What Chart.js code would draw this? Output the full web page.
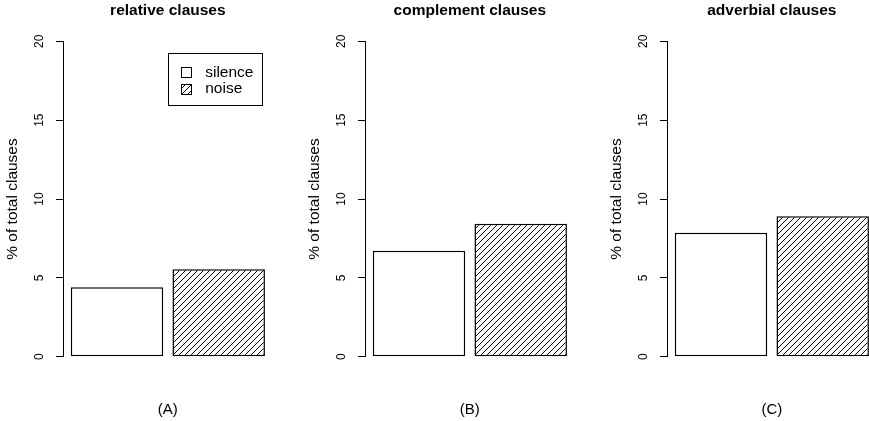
<!DOCTYPE html>
<html>
<head>
<meta charset="utf-8">
<script src="https://cdn.jsdelivr.net/npm/chart.js@4.4.1/dist/chart.umd.min.js"></script>
<style>
  html, body { margin: 0; padding: 0; background: #fff; }
  #wrap { position: relative; width: 869px; height: 421px; overflow: hidden; }
  .panel { position: absolute; top: 0; width: 302px; height: 421px; }
</style>
</head>
<body>
<div id="wrap">
  <div class="panel" style="left:0px"><canvas id="chart0" width="302" height="421"></canvas></div>
  <div class="panel" style="left:302px"><canvas id="chart1" width="302" height="421"></canvas></div>
  <div class="panel" style="left:604px"><canvas id="chart2" width="302" height="421"></canvas></div>
</div>
<script>
// data
const categories = ['silence', 'noise'];
const panelTitles = ['relative clauses', 'complement clauses', 'adverbial clauses'];
const panelTags = ['(A)', '(B)', '(C)'];
const silenceValues = [4.40, 6.72, 7.86];
const noiseValues = [5.54, 8.43, 8.90];
const yTicks = [0, 5, 10, 15, 20];
const yLabel = '% of total clauses';

Chart.defaults.font.family = '"Liberation Sans", Arial, Helvetica, sans-serif';
Chart.defaults.color = '#000';

// diagonal hatch like R's density fill
function makeHatch() {
    const c = document.createElement('canvas');
    c.width = 6; c.height = 6;
    const g = c.getContext('2d');
    g.fillStyle = '#fff';
    g.fillRect(0, 0, 6, 6);
    g.strokeStyle = '#000';
    g.lineWidth = 1;
    g.beginPath();
    g.moveTo(0, 6); g.lineTo(6, 0);
    g.moveTo(-1, 1); g.lineTo(1, -1);
    g.moveTo(5, 7); g.lineTo(7, 5);
    g.stroke();
    return g.createPattern(c, 'repeat');
}
const hatch = makeHatch();
const fills = ['#fff', hatch];

// bar midpoints the way barplot() places them (width 1, space 0.1)
const space = 0.1;
const mids = categories.map((c, i) => space + i * (1 + space) + 0.5);
const xLo = space, xHi = categories.length * (1 + space);
const pad = (xHi - xLo) * 0.04;

// boxed legend in the top right of the plot, only on the first panel
const boxLegend = {
    id: 'boxLegend',
    afterDraw(chart) {
        if (!chart.options.plugins.boxLegend.show) return;
        const ctx = chart.ctx;
        const ca = chart.chartArea;
        const ds = chart.data.datasets[0];
        const left = ca.right - 105, top = ca.top + 12;
        ctx.save();
        ctx.strokeStyle = '#000';
        ctx.lineWidth = 1;
        ctx.strokeRect(Math.round(left) + 0.5, Math.round(top) + 0.5, 94, 52);
        ctx.font = '15.5px "Liberation Sans", Arial, sans-serif';
        ctx.textBaseline = 'middle';
        chart.data.labels.forEach((lab, i) => {
            const cy = top + 19 + i * 16.8;
            const sx = Math.round(left + 13) + 0.5, sy = Math.round(cy - 5) + 0.5;
            ctx.fillStyle = ds.backgroundColor[i];
            ctx.fillRect(sx, sy, 10, 10);
            ctx.strokeRect(sx, sy, 10, 10);
            ctx.fillStyle = '#000';
            ctx.fillText(lab, left + 37.5, cy);
        });
        ctx.restore();
    }
};

panelTitles.forEach((title, p) => {
    const ctx = document.getElementById('chart' + p);
    new Chart(ctx, {
        type: 'bar',
        data: {
            labels: categories,
            datasets: [{
                label: title,
                data: [silenceValues[p], noiseValues[p]].map((v, i) => ({ x: mids[i], y: v })),
                backgroundColor: fills,
                borderColor: '#000',
                borderWidth: 1.5,
                borderSkipped: false,
                barPercentage: 1 / (1 + space),
                categoryPercentage: 1
            }]
        },
        options: {
            responsive: false,
            animation: false,
            events: [],
            layout: { padding: { left: 0, right: 29.3, top: 0, bottom: 0 } },
            plugins: {
                legend: { display: false },
                tooltip: { enabled: false },
                boxLegend: { show: p === 0 }
            },
            scales: {
                x: {
                    type: 'linear',
                    position: 'bottom',
                    min: xLo - pad,
                    max: xHi + pad,
                    bounds: 'data',
                    afterBuildTicks: s => { s.ticks = []; },
                    afterFit: s => { s.height = 64.3; },
                    ticks: { display: false },
                    grid: { display: false },
                    border: { display: false },
                    title: {
                        display: true,
                        text: panelTags[p],
                        font: { size: 15 },
                        padding: { top: 0, bottom: 2 }
                    }
                },
                top: {
                    type: 'linear',
                    position: 'top',
                    min: 0,
                    max: 1,
                    afterBuildTicks: s => { s.ticks = []; },
                    afterFit: s => { s.height = 41.3; },
                    ticks: { display: false },
                    grid: { display: false },
                    border: { display: false },
                    title: {
                        display: true,
                        text: title,
                        font: { size: 15.5, weight: 'bold' },
                        padding: { top: 1.5, bottom: 0 }
                    }
                },
                y: {
                    min: 0,
                    max: 20,
                    afterBuildTicks: s => { s.ticks = yTicks.map(v => ({ value: v })); },
                    afterFit: s => { s.width = 63; },
                    ticks: {
                        minRotation: 90,
                        maxRotation: 90,
                        crossAlign: 'center',
                        padding: 9.5,
                        font: { size: 12 }
                    },
                    grid: {
                        drawOnChartArea: false,
                        drawTicks: true,
                        tickLength: 7,
                        color: '#000'
                    },
                    border: { display: true, color: '#000', width: 1 },
                    title: {
                        display: true,
                        text: yLabel,
                        font: { size: 15.5 },
                        padding: { top: 3, bottom: 0 }
                    }
                }
            }
        },
        plugins: [boxLegend]
    });
});
</script>
</body>
</html>
